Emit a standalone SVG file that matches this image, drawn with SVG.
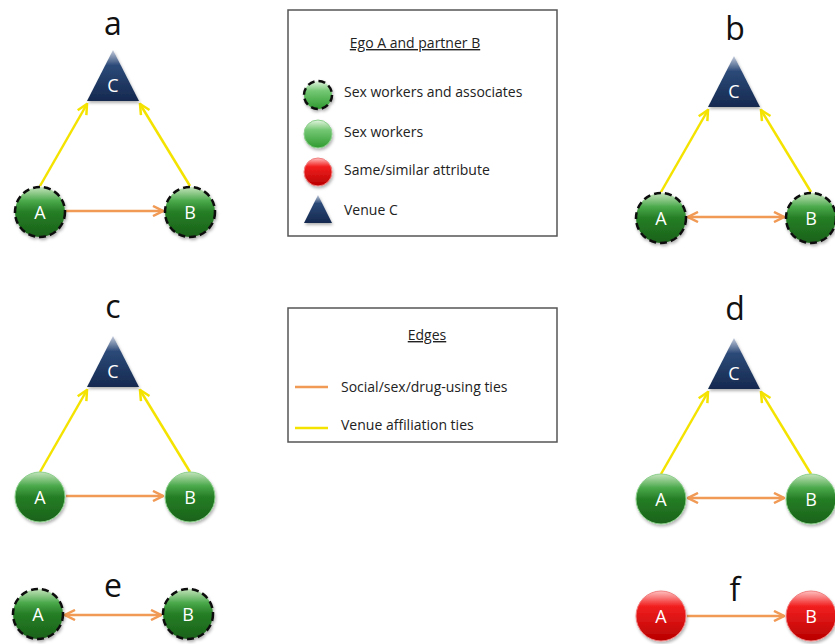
<svg xmlns="http://www.w3.org/2000/svg" width="835" height="644" viewBox="0 0 835 644">
<defs>
<linearGradient id="gGreen" x1="0" y1="0" x2="0" y2="1">
<stop offset="0" stop-color="#c4e4bc"/><stop offset="0.28" stop-color="#4aa84a"/><stop offset="0.5" stop-color="#257e25"/><stop offset="1" stop-color="#1a611a"/>
</linearGradient>
<linearGradient id="gGreenL" x1="0" y1="0" x2="0" y2="1">
<stop offset="0" stop-color="#e4f4e0"/><stop offset="0.35" stop-color="#74c874"/><stop offset="1" stop-color="#2f9a2f"/>
</linearGradient>
<linearGradient id="gRed" x1="0" y1="0" x2="0" y2="1">
<stop offset="0" stop-color="#ffc0c0"/><stop offset="0.3" stop-color="#f22020"/><stop offset="1" stop-color="#b80000"/>
</linearGradient>
<linearGradient id="gNavy" x1="0" y1="0" x2="0" y2="1">
<stop offset="0" stop-color="#c4ccdc"/><stop offset="0.3" stop-color="#2c4a78"/><stop offset="1" stop-color="#15294f"/>
</linearGradient>
<filter id="sh" x="-30%" y="-30%" width="160%" height="160%"><feDropShadow dx="1" dy="2" stdDeviation="1.5" flood-color="#000" flood-opacity="0.3"/></filter>
<marker id="ay" viewBox="0 0 10 10" refX="9" refY="5" markerWidth="5" markerHeight="5" orient="auto-start-reverse" markerUnits="strokeWidth"><path d="M1,1 L9,5 L1,9" fill="none" stroke="#f4e300" stroke-width="2"/></marker>
<marker id="ao" viewBox="0 0 10 10" refX="9" refY="5" markerWidth="5" markerHeight="5" orient="auto-start-reverse" markerUnits="strokeWidth"><path d="M1,1 L9,5 L1,9" fill="none" stroke="#f09a55" stroke-width="2"/></marker>
</defs>
<style>
.lbl{font-family:"Open Sans","Liberation Sans",sans-serif;font-size:32px;fill:#111;text-anchor:middle}
.nt{font-family:"Open Sans","Liberation Sans",sans-serif;font-size:18px;fill:#fff;text-anchor:middle}
.lt{font-family:"Open Sans","Liberation Sans",sans-serif;font-size:14px;fill:#222}
.ttl{font-family:"Open Sans","Liberation Sans",sans-serif;font-size:14px;fill:#222;text-anchor:middle;text-decoration:underline}
.box{fill:#fff;stroke:#555;stroke-width:1.5}
.sw{fill:url(#gGreen);stroke:#111;stroke-width:2.5;stroke-dasharray:7 4;filter:url(#sh)}
.sg{fill:url(#gGreen);stroke:#8ccf8c;stroke-width:1;filter:url(#sh)}
.sr{fill:url(#gRed);stroke:#f08080;stroke-width:1;filter:url(#sh)}
.tv{fill:url(#gNavy);filter:url(#sh)}
.ye{stroke:#f4e300;stroke-width:2.5;fill:none}
.or{stroke:#f09a55;stroke-width:2.5;fill:none}
</style>
<rect width="835" height="644" fill="#fff"/>

<g id="labels">
<text class="lbl" x="113" y="35">a</text>
<text class="lbl" x="735" y="40">b</text>
<text class="lbl" x="113" y="318">c</text>
<text class="lbl" x="735" y="320">d</text>
<text class="lbl" x="113" y="597">e</text>
<text class="lbl" x="735" y="601">f</text>
</g>

<g id="connectors">
<line class="ye" x1="40" y1="186" x2="87" y2="104" marker-end="url(#ay)"/>
<line class="ye" x1="190" y1="186" x2="140" y2="104" marker-end="url(#ay)"/>
<line class="or" x1="66" y1="211" x2="163" y2="211" marker-end="url(#ao)"/>
<line class="ye" x1="661" y1="192" x2="708" y2="110" marker-end="url(#ay)"/>
<line class="ye" x1="811" y1="192" x2="761" y2="110" marker-end="url(#ay)"/>
<line class="or" x1="688" y1="217" x2="784" y2="217" marker-start="url(#ao)" marker-end="url(#ao)"/>
<line class="ye" x1="40" y1="472" x2="87" y2="390" marker-end="url(#ay)"/>
<line class="ye" x1="190" y1="472" x2="140" y2="390" marker-end="url(#ay)"/>
<line class="or" x1="66" y1="496" x2="163" y2="496" marker-end="url(#ao)"/>
<line class="ye" x1="661" y1="474" x2="708" y2="392" marker-end="url(#ay)"/>
<line class="ye" x1="811" y1="474" x2="761" y2="392" marker-end="url(#ay)"/>
<line class="or" x1="688" y1="498" x2="784" y2="498" marker-start="url(#ao)" marker-end="url(#ao)"/>
<line class="or" x1="65" y1="615" x2="161" y2="615" marker-start="url(#ao)" marker-end="url(#ao)"/>
<line class="or" x1="687" y1="616" x2="784" y2="616" marker-end="url(#ao)"/>
</g>

<g id="a-C"><polygon class="tv" points="113,50 139,101 87,101"/><text class="nt" x="113" y="92">C</text></g>
<g id="a-A"><circle class="sw" cx="40" cy="212" r="25"/><text class="nt" x="40" y="219">A</text></g>
<g id="a-B"><circle class="sw" cx="190" cy="212" r="25"/><text class="nt" x="190" y="219">B</text></g>

<g id="b-C"><polygon class="tv" points="734,56 760,107 708,107"/><text class="nt" x="734" y="98">C</text></g>
<g id="b-A"><circle class="sw" cx="661" cy="218" r="25"/><text class="nt" x="661" y="225">A</text></g>
<g id="b-B"><circle class="sw" cx="811" cy="218" r="25"/><text class="nt" x="811" y="225">B</text></g>

<g id="c-C"><polygon class="tv" points="113,336 139,387 87,387"/><text class="nt" x="113" y="378">C</text></g>
<g id="c-A"><circle class="sg" cx="40" cy="497" r="25"/><text class="nt" x="40" y="504">A</text></g>
<g id="c-B"><circle class="sg" cx="190" cy="497" r="25"/><text class="nt" x="190" y="504">B</text></g>

<g id="d-C"><polygon class="tv" points="734,338 760,389 708,389"/><text class="nt" x="734" y="380">C</text></g>
<g id="d-A"><circle class="sg" cx="661" cy="499" r="25"/><text class="nt" x="661" y="506">A</text></g>
<g id="d-B"><circle class="sg" cx="811" cy="499" r="25"/><text class="nt" x="811" y="506">B</text></g>

<g id="e-A"><circle class="sw" cx="38" cy="614" r="25"/><text class="nt" x="38" y="621">A</text></g>
<g id="e-B"><circle class="sw" cx="188" cy="614" r="25"/><text class="nt" x="188" y="621">B</text></g>

<g id="f-A"><circle class="sr" cx="661" cy="616" r="25"/><text class="nt" x="661" y="623">A</text></g>
<g id="f-B"><circle class="sr" cx="811" cy="616" r="25"/><text class="nt" x="811" y="623">B</text></g>

<g id="legend-nodes">
<rect class="box" x="288" y="10" width="269" height="226"/>
<text class="ttl" x="415" y="48">Ego A and partner B</text>
<circle class="sw" cx="318" cy="95" r="14" style="fill:url(#gGreenL)"/>
<text class="lt" x="344" y="97">Sex workers and associates</text>
<circle class="sg" cx="318" cy="134" r="14" style="fill:url(#gGreenL)"/>
<text class="lt" x="344" y="137">Sex workers</text>
<circle class="sr" cx="318" cy="172" r="14"/>
<text class="lt" x="344" y="175">Same/similar attribute</text>
<polygon class="tv" points="318,195 332,223 304,223"/>
<text class="lt" x="344" y="215">Venue C</text>
</g>

<g id="legend-edges">
<rect class="box" x="288" y="308" width="269" height="134"/>
<text class="ttl" x="427" y="340">Edges</text>
<line class="or" x1="295" y1="387" x2="328" y2="387"/>
<text class="lt" x="341" y="392">Social/sex/drug-using ties</text>
<line class="ye" x1="295" y1="428" x2="328" y2="428"/>
<text class="lt" x="341" y="430">Venue affiliation ties</text>
</g>
</svg>
